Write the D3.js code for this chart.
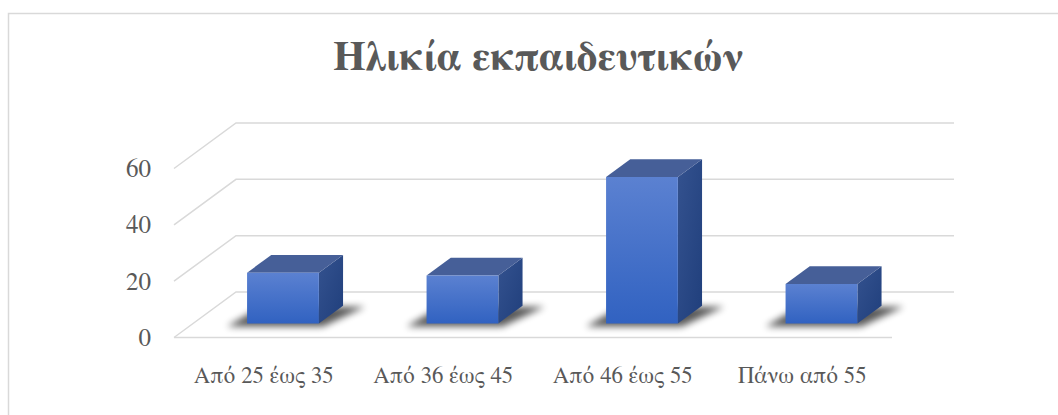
<!DOCTYPE html>
<html>
<head>
<meta charset="utf-8">
<script src="https://cdn.jsdelivr.net/npm/d3@7"></script>
<style>
  body { margin: 0; background: #fff; }
  svg { display: block; }
</style>
</head>
<body>
<svg id="chart" width="1058" height="415"></svg>
<script>
// data
var categories = ["Από 25 έως 35", "Από 36 έως 45", "Από 46 έως 55", "Πάνω από 55"];
var values = [18, 17, 52, 14];
var yTicks = [0, 20, 40, 60];
var title = "Ηλικία εκπαιδευτικών";

var serif = "FreeSerif, 'Liberation Serif', 'Times New Roman', serif";
var svg = d3.select("#chart");

// 3d frame: front floor edge and depth vector
var floorLeft = 174, floorRight = 892, floorY = 337.5;
var depth = { dx: 62, dy: -45.5 };
var barFront = 0.31, barBack = 0.70;   // depth fractions of the bars

var y = d3.scaleLinear().domain([0, 60]).range([0, 169]);
var xCat = d3.scaleBand().domain(categories).range([floorLeft, floorRight]).padding(0);
var xBar = d3.scaleBand().domain(categories).range([floorLeft, floorRight])
    .paddingInner(0.6).paddingOuter(0.3);

// project (x on front floor, depth fraction, value) to screen
function proj(x, d, v) {
    return [x + d * depth.dx, floorY + d * depth.dy - y(v)];
}

var defs = svg.append("defs");
defs.append("filter").attr("id", "blur")
    .attr("x", "-50%").attr("y", "-50%").attr("width", "200%").attr("height", "200%")
    .append("feGaussianBlur").attr("stdDeviation", 3.5);

var gFront = defs.append("linearGradient").attr("id", "front")
    .attr("x1", 0).attr("y1", 0).attr("x2", 0).attr("y2", 1);
gFront.append("stop").attr("offset", "0%").attr("stop-color", "#5b81d1");
gFront.append("stop").attr("offset", "100%").attr("stop-color", "#3162c1");

var gSide = defs.append("linearGradient").attr("id", "side")
    .attr("x1", 0).attr("y1", 0).attr("x2", 1).attr("y2", 1);
gSide.append("stop").attr("offset", "0%").attr("stop-color", "#34528f");
gSide.append("stop").attr("offset", "100%").attr("stop-color", "#203f7c");

// chart frame
svg.append("rect")
    .attr("x", 8.5).attr("y", 13.5)
    .attr("width", 1060).attr("height", 420)
    .attr("fill", "#fff")
    .attr("stroke", "#d9d9d9").attr("stroke-width", 1.5);

// shrink/grow a text's font so it spans the wanted width
function fitWidth(sel, base, want) {
    sel.attr("font-size", base);
    var w = sel.node().getComputedTextLength();
    if (w > 0) sel.attr("font-size", (base * want / w).toFixed(2));
}

// title
var t = svg.append("text")
    .attr("x", 538).attr("y", 70)
    .attr("text-anchor", "middle")
    .attr("font-family", serif)
    .attr("font-weight", "bold")
    .attr("fill", "#595959")
    .text(title);
fitWidth(t, 41, 410);

// gridlines: back wall + left side wall
var grid = svg.append("g").attr("stroke", "#d9d9d9").attr("stroke-width", 1.5).attr("fill", "none");
yTicks.forEach(function(t) {
    var a = proj(floorLeft, 0, t), b = proj(floorLeft, 1, t), c = proj(floorRight, 1, t);
    grid.append("path").attr("d", d3.line()([a, b, c]));
});
// front floor edge
grid.append("path").attr("d", d3.line()([proj(floorLeft, 0, 0), proj(floorRight, 0, 0)]));

// bars
var bars = svg.append("g").selectAll("g").data(categories).enter().append("g");

bars.each(function(c, i) {
    var g = d3.select(this);
    var x0 = xBar(c), x1 = xBar(c) + xBar.bandwidth(), v = values[i];
    var fl = proj(x0, barFront, 0), fr = proj(x1, barFront, 0),
        br = proj(x1, barBack, 0), bl = proj(x0, barBack, 0);
    var tfl = proj(x0, barFront, v), tfr = proj(x1, barFront, v),
        tbr = proj(x1, barBack, v), tbl = proj(x0, barBack, v);

    // shadow on the floor
    g.append("path")
        .attr("d", d3.line()([[fl[0] - 20, fl[1] + 3], [fr[0] + 4, fr[1] + 3],
                              [br[0] + 22, br[1] + 1], [bl[0] - 10, bl[1] + 1]]) + "Z")
        .attr("fill", "#000").attr("opacity", 0.65)
        .attr("filter", "url(#blur)");

    g.append("path").attr("d", d3.line()([fr, br, tbr, tfr]) + "Z").attr("fill", "url(#side)");
    g.append("path").attr("d", d3.line()([tfl, tfr, tbr, tbl]) + "Z").attr("fill", "#465f98");
    g.append("path").attr("d", d3.line()([fl, fr, tfr, tfl]) + "Z").attr("fill", "url(#front)");
});

// value axis on the front-left edge
var yFront = d3.scaleLinear().domain([0, 60]).range([floorY, floorY - y(60)]);
var yAxis = svg.append("g")
    .attr("transform", "translate(" + floorLeft + ",0)")
    .call(d3.axisLeft(yFront).tickValues(yTicks).tickSize(0).tickPadding(23))
    .attr("font-family", serif)
    .call(function(g) { g.select(".domain").remove(); });
yAxis.selectAll("text").attr("fill", "#595959");
fitWidth(yAxis.select(".tick:last-of-type text"), 23, 25);
yAxis.attr("font-size", yAxis.select(".tick:last-of-type text").attr("font-size"));
yAxis.selectAll("text").attr("font-size", null);

// category axis
var xAxis = svg.append("g")
    .attr("transform", "translate(0," + floorY + ")")
    .call(d3.axisBottom(xCat).tickSize(0).tickPadding(29))
    .attr("font-family", serif)
    .call(function(g) { g.select(".domain").remove(); });
xAxis.selectAll("text").attr("fill", "#595959");
fitWidth(xAxis.select(".tick text"), 23, 140);
xAxis.attr("font-size", xAxis.select(".tick text").attr("font-size"));
xAxis.selectAll("text").attr("font-size", null);
</script>
</body>
</html>
